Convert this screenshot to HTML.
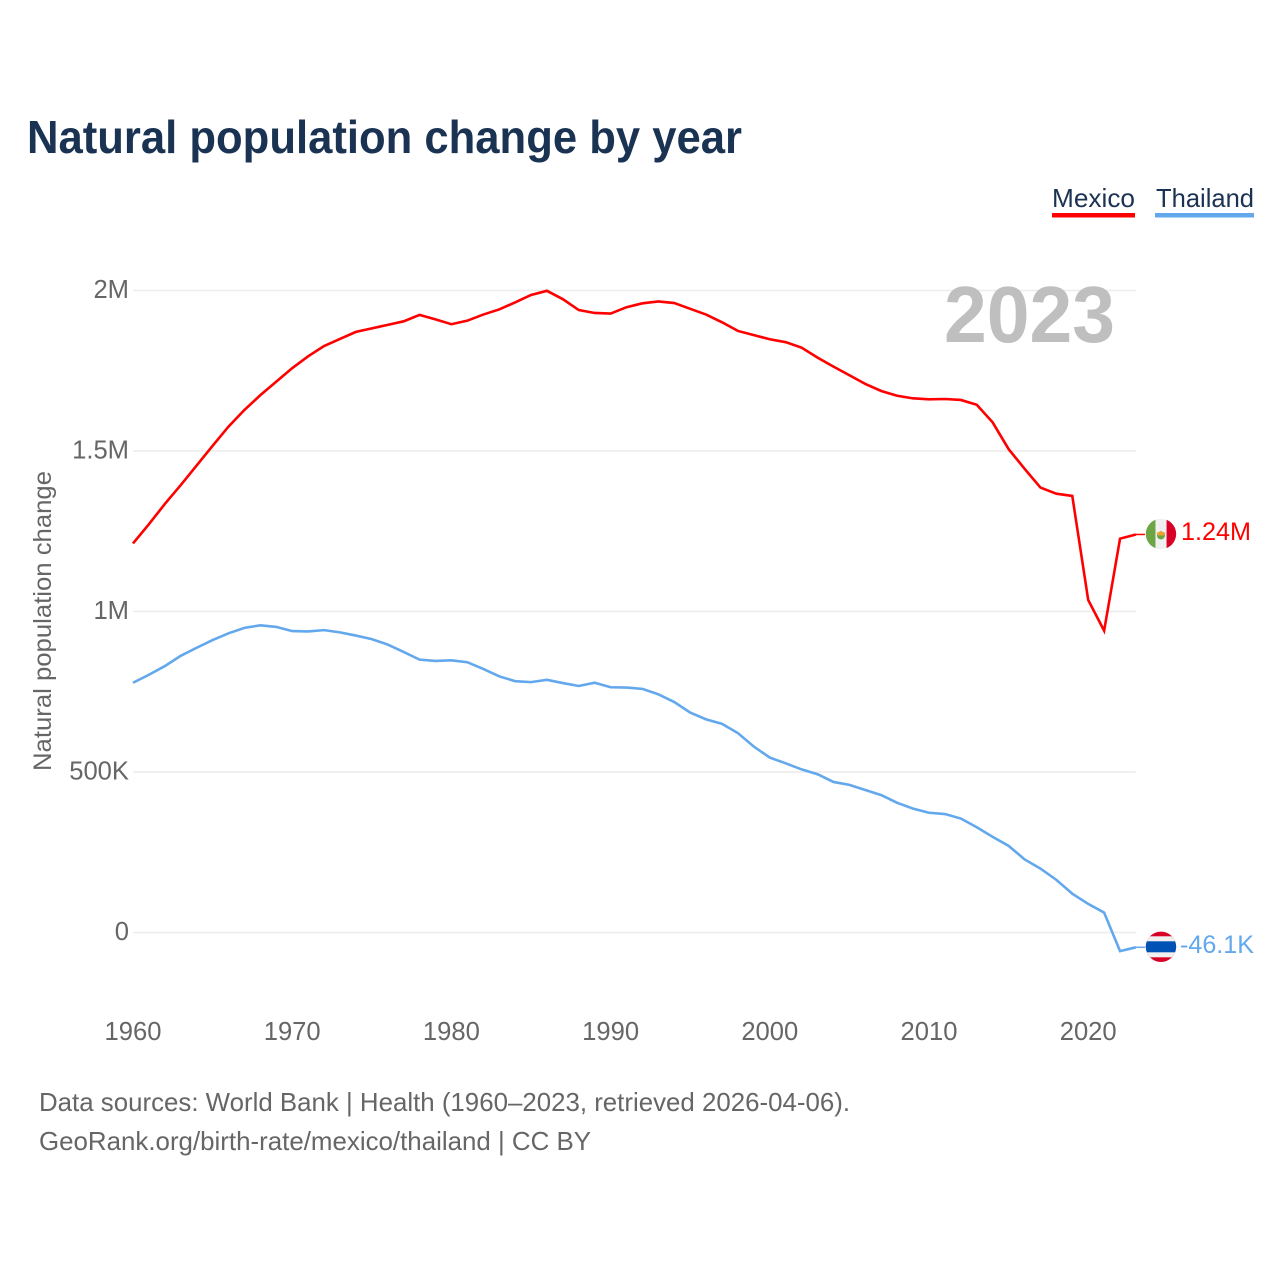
<!DOCTYPE html>
<html lang="en">
<head>
<meta charset="utf-8">
<title>Natural population change by year</title>
<style>
  html, body { margin: 0; padding: 0; background: #fff; }
  svg { display: block; font-family: "Liberation Sans", Arial, sans-serif; }
</style>
</head>
<body>
<svg id="chart" xmlns="http://www.w3.org/2000/svg" width="1280" height="1280" viewBox="0 0 1280 1280">
  <rect width="1280" height="1280" fill="#fff"/>
  <text x="27" y="153" font-size="46" font-weight="700" fill="#1a3353" textLength="715" lengthAdjust="spacingAndGlyphs">Natural population change by year</text>

  <g>
    <text x="1052" y="207" font-size="26" fill="#1a3353" textLength="83" lengthAdjust="spacingAndGlyphs">Mexico</text>
    <rect x="1052" y="213" width="83" height="4.5" fill="#ff0000"/>
  </g>
  <g>
    <text x="1156" y="207" font-size="26" fill="#1a3353" textLength="98" lengthAdjust="spacingAndGlyphs">Thailand</text>
    <rect x="1155" y="213" width="99" height="4.5" fill="#63a8ec"/>
  </g>

  <text transform="translate(51 771) rotate(-90)" font-size="25" fill="#666666" textLength="300" lengthAdjust="spacingAndGlyphs">Natural population change</text>

  <g id="grid"></g>
  <g id="yticks"></g>
  <g id="xticks"></g>

  <text x="944" y="342" font-size="80" font-weight="700" fill="#bfbfbf" textLength="171" lengthAdjust="spacingAndGlyphs">2023</text>

  <g id="series"></g>

  <clipPath id="mexico-clip"><circle id="mexico-clip-circle" r="15.2" cx="0" cy="0"/></clipPath>
  <clipPath id="thailand-clip"><circle id="thailand-clip-circle" r="15.2" cx="0" cy="0"/></clipPath>

  <g id="flag-mexico">
    <g clip-path="url(#mexico-clip)">
      <rect x="-16" y="-16" width="32" height="32" fill="#f0f0f0"/>
      <rect x="-16" y="-16" width="10.5" height="32" fill="#6da544"/>
      <rect x="5.6" y="-16" width="11" height="32" fill="#d80027"/>
      <circle cx="0" cy="1.5" r="4" fill="#6da544"/>
      <path d="M-5 -1.5 L-2.5 -1 L0 -3.5 L2.5 -1 L5 -1.5 L2.5 1.5 L-2.5 1.5 Z" fill="#f59e2c"/>
    </g>
  </g>
  <g id="flag-thailand">
    <g clip-path="url(#thailand-clip)">
      <rect x="-16" y="-16" width="32" height="32" fill="#d80027"/>
      <rect x="-16" y="-10.5" width="32" height="21" fill="#f0f0f0"/>
      <rect x="-16" y="-5.5" width="32" height="11" fill="#0052b4"/>
    </g>
  </g>

  <text id="end-mexico" x="1181" y="540.5" font-size="25" fill="#ff0000" textLength="70" lengthAdjust="spacingAndGlyphs"></text>
  <text id="end-thailand" x="1180" y="953" font-size="25" fill="#63a8ec" textLength="74" lengthAdjust="spacingAndGlyphs"></text>

  <text x="39" y="1111" font-size="26" fill="#666666" textLength="811" lengthAdjust="spacingAndGlyphs">Data sources: World Bank | Health (1960–2023, retrieved 2026-04-06).</text>
  <text x="39" y="1150" font-size="26" fill="#666666" textLength="552" lengthAdjust="spacingAndGlyphs">GeoRank.org/birth-rate/mexico/thailand | CC BY</text>
</svg>

<script>
const startYear = 1960;
const mexicoValues = [1212,1272,1335,1394,1455,1516,1576,1628,1674,1716,1758,1795,1827,1849,1871,1882,1893,1904,1924,1910,1895,1906,1925,1941,1963,1986,1999,1973,1939,1930,1928,1948,1960,1966,1961,1943,1925,1901,1874,1861,1848,1839,1822,1791,1763,1736,1709,1687,1672,1664,1661,1662,1659,1644,1589,1506,1445,1386,1367,1360,1036,940,1227,1240];
const thailandValues = [778,803,830,862,887,911,932,949,957,952,939,938,942,935,925,914,897,874,850,846,848,842,821,798,783,780,787,777,768,778,764,763,759,742,718,685,664,650,621,579,545,527,508,493,469,460,444,428,404,386,373,369,355,328,298,270,228,199,164,121,89,62,-58,-46.1];
const xTickYears = [1960,1970,1980,1990,2000,2010,2020];
const yTickValues = [0,500,1000,1500,2000];
const yTickLabels = ["0","500K","1M","1.5M","2M"];
const mexicoEndLabel = "1.24M";
const thailandEndLabel = "-46.1K";

const NS = "http://www.w3.org/2000/svg";
function xScale(year) { return 133 + (year - 1960) * 15.92; }
function yScale(value) { return 932.5 - value * 0.321; }
function make(tag, attrs, parent) {
  const el = document.createElementNS(NS, tag);
  for (const k in attrs) el.setAttribute(k, attrs[k]);
  parent.appendChild(el);
  return el;
}

const grid = document.getElementById("grid");
const yticks = document.getElementById("yticks");
const xticks = document.getElementById("xticks");
const series = document.getElementById("series");
const lastYear = startYear + mexicoValues.length - 1;

yTickValues.forEach(function (v, i) {
  const line = make("line", { x1: xScale(startYear), x2: xScale(lastYear), y1: yScale(v), y2: yScale(v), stroke: "#ececec", "stroke-width": 1.4 }, grid);
  
  
  const t = make("text", { x: 129, y: yScale(v) + 7.5, "text-anchor": "end", "font-size": 25.6, fill: "#666666" }, yticks);
  
  
  t.textContent = yTickLabels[i];
});

xTickYears.forEach(function (yr) {
  const t = make("text", { x: xScale(yr), y: 1040, "text-anchor": "middle", "font-size": 25.6, fill: "#666666" }, xticks);
  
  
  t.textContent = yr;
});

function pointsFor(values) {
  return values.map(function (v, i) { return xScale(startYear + i).toFixed(2) + "," + yScale(v).toFixed(2); }).join(" ");
}

const mexicoLine = make("polyline", { points: pointsFor(mexicoValues), fill: "none", stroke: "#ff0000", "stroke-width": 2.6, "stroke-linejoin": "miter" }, series);



const thailandLine = make("polyline", { points: pointsFor(thailandValues), fill: "none", stroke: "#63a8ec", "stroke-width": 2.6, "stroke-linejoin": "miter" }, series);



function placeEnd(values, color, flagId, clipId, labelId, labelText, labelDy, tailName) {
  const last = values[values.length - 1];
  const ex = xScale(lastYear);
  const ey = yScale(last);
  const tail = make("line", { x1: ex, x2: ex + 9, y1: ey, y2: ey, stroke: color, "stroke-width": 1.5 }, series);
  
  
  const fx = ex + 25;
  document.getElementById(flagId).setAttribute("transform", "translate(" + fx + " " + (ey - 0.5) + ")");
  const c = document.getElementById(clipId);
  c.setAttribute("cx", 0);
  c.setAttribute("cy", 0);
  const label = document.getElementById(labelId);
  label.setAttribute("y", ey + labelDy);
  label.textContent = labelText;
}
placeEnd(mexicoValues, "#ff0000", "flag-mexico", "mexico-clip-circle", "end-mexico", mexicoEndLabel, 5.5, 'mexico-leader-line');
placeEnd(thailandValues, "#63a8ec", "flag-thailand", "thailand-clip-circle", "end-thailand", thailandEndLabel, 5.5, 'thailand-leader-line');
</script>
</body>
</html>
